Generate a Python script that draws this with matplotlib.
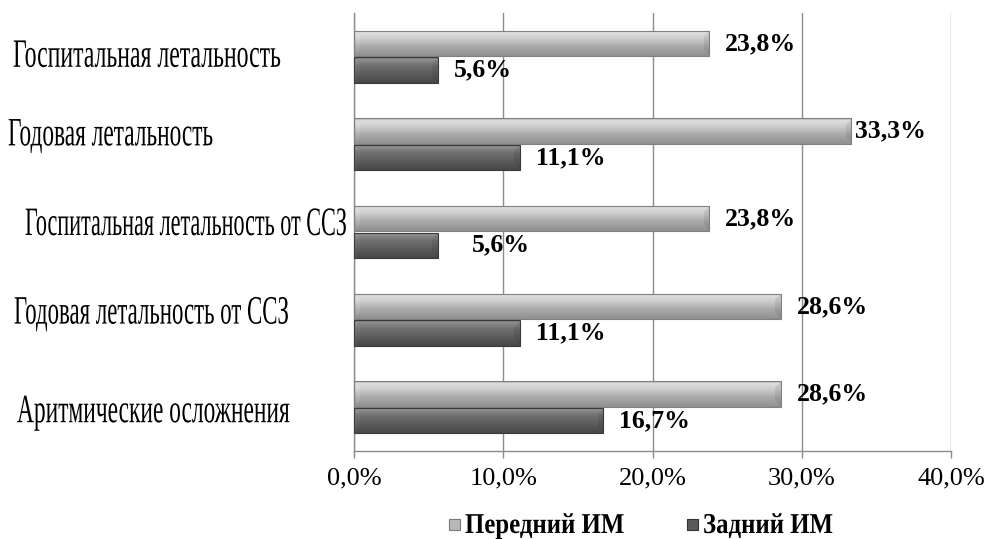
import numpy as np
import matplotlib
matplotlib.use("Agg")
import matplotlib.pyplot as plt
from matplotlib.patheffects import AbstractPathEffect
from matplotlib.transforms import Affine2D
from matplotlib.patches import Rectangle
from matplotlib.ticker import FuncFormatter

# ---- data -------------------------------------------------------------
categories = [
    "Госпитальная летальность",
    "Годовая летальность",
    "Госпитальная летальность от ССЗ",
    "Годовая летальность от ССЗ",
    "Аритмические осложнения",
]
anterior_mi = [23.8, 33.3, 23.8, 28.6, 28.6]    # Передний ИМ, %
posterior_mi = [5.6, 11.1, 5.6, 11.1, 16.7]     # Задний ИМ, %
series_names = ["Передний ИМ", "Задний ИМ"]
x_ticks = [0, 10, 20, 30, 40]

# ---- style ------------------------------------------------------------
W, H, DPI = 989, 539, 100
SERIF = "Liberation Serif"
GRID = "#8c8c8c"
LIGHT_STOPS = [(0.0, 0.64), (0.10, 0.87), (0.30, 0.81), (0.62, 0.67), (1.0, 0.56)]
DARK_STOPS = [(0.0, 0.44), (0.10, 0.56), (0.35, 0.43), (0.70, 0.35), (1.0, 0.28)]
CAT_SIZE = 29        # apparent (tall) size of the category captions, pt
# category labels: left edge (px), baseline shift from group centre (px), width ratio
label_place = [(13, 10, 0.59), (8, 1, 0.58), (25, 3, 0.55), (14, 4, 0.567), (17, 15, 0.582)]
# extra horizontal push (px) for individual value labels: (series, category) -> px
label_push = {(1, 2): 18, (0, 1): -12}
# legend: swatch left edge (px) for each entry, caption baseline (px from top)
legend_x = [449, 687]
legend_baseline = 533
LEG_SIZE, LEG_RATIO = 20.7, 0.864


class Tall(AbstractPathEffect):
    """Stretch a text path vertically about its baseline origin."""

    def __init__(self, sy):
        super().__init__()
        self.sy = sy

    def draw_path(self, renderer, gc, tpath, affine, rgbFace=None):
        ox, oy = affine.transform((0.0, 0.0))
        stretch = Affine2D().translate(-ox, -oy).scale(1.0, self.sy).translate(ox, oy)
        renderer.draw_path(gc, tpath, affine + stretch, rgbFace)


def shaded_bar(h_px, w_px, stops, cap=6):
    """Cylinder-like grey shading with bevelled ends."""
    rows = (np.arange(h_px) + 0.5) / h_px
    pos, vals = zip(*stops)
    g = np.interp(rows, pos, vals)
    img = np.repeat(g[:, None], w_px, axis=1)
    r = np.arange(h_px)[:, None] + 0.5
    c = np.arange(w_px)[None, :] + 0.5
    edge = np.minimum(r, h_px - r)
    right = ((w_px - c) < cap) & ((w_px - c) < edge)
    left = (c < cap) & (c < edge)
    img = np.where(right, img * 0.92, img)
    img = np.where(left, np.clip(img * 1.04, 0, 1), img)
    return np.dstack([img, img, img])


def pct(v):
    return f"{v:.1f}%".replace(".", ",")


fig = plt.figure(figsize=(W / DPI, H / DPI), dpi=DPI)
ax = fig.add_axes([354 / W, (H - 451) / H, 597 / W, 438 / H])

y = np.arange(len(categories))
bh = 0.29
gap = 0.006
light = ax.barh(y - bh / 2 - gap, anterior_mi, height=bh, facecolor="none",
                edgecolor="#808080", linewidth=0.8, zorder=3)
dark = ax.barh(y + bh / 2 + gap, posterior_mi, height=bh, facecolor="none",
               edgecolor="#3a3a3a", linewidth=0.8, zorder=3)

xlim = (x_ticks[0], x_ticks[-1])
ylim = (len(categories) - 0.5, -0.5)
ax.set_xlim(*xlim)
ax.set_ylim(*ylim)

for bars, stops in ((light, LIGHT_STOPS), (dark, DARK_STOPS)):
    for rect in bars:
        x0, y0 = rect.get_x(), rect.get_y()
        w, h = rect.get_width(), rect.get_height()
        p0 = ax.transData.transform((x0, y0))
        p1 = ax.transData.transform((x0 + w, y0 + h))
        wpx = max(int(round(abs(p1[0] - p0[0]))), 1)
        hpx = max(int(round(abs(p1[1] - p0[1]))), 1)
        im = ax.imshow(shaded_bar(hpx, wpx, stops), extent=(x0, x0 + w, y0 + h, y0),
                       aspect="auto", origin="upper", interpolation="bilinear", zorder=2.5)
        im.set_clip_path(rect)

ax.set_xlim(*xlim)
ax.set_ylim(*ylim)

# value labels
for s, (bars, vals) in enumerate(((light, anterior_mi), (dark, posterior_mi))):
    for i, (rect, v) in enumerate(zip(bars, vals)):
        yc = rect.get_y() + rect.get_height() / 2
        dx = (16 + label_push.get((s, i), 0)) * 72 / DPI
        ax.annotate(pct(v), xy=(v, yc), xytext=(dx, 0), textcoords="offset points",
                    ha="left", va="center", fontsize=18.5, fontweight="bold",
                    family=SERIF, color="black", zorder=5)

# axes styling
ax.set_xticks(x_ticks)
ax.xaxis.set_major_formatter(FuncFormatter(lambda v, _: pct(v)))
ax.tick_params(axis="x", direction="out", length=5, width=1, color=GRID, pad=7,
               labelsize=19)
for t in ax.get_xticklabels():
    t.set_family(SERIF)
ax.tick_params(axis="y", left=False, labelleft=False)
ax.xaxis.grid(True, color=GRID, linewidth=1.0)
ax.set_axisbelow(True)
for side in ("top", "right"):
    ax.spines[side].set_visible(False)
for side in ("left", "bottom"):
    ax.spines[side].set_color(GRID)
    ax.spines[side].set_linewidth(1.0)

# category labels in a tall, narrow serif
for i, (name, (lx, dy, ratio)) in enumerate(zip(categories, label_place)):
    yc_px = ax.transData.transform((0, y[i]))[1]
    fig.text(lx / W, (yc_px - dy) / H, name, ha="left", va="baseline",
             fontsize=CAT_SIZE * ratio, family=SERIF, color="black",
             path_effects=[Tall(1 / ratio)])

# legend: small shaded swatch followed by a bold narrow caption
swatch_colors = [("#b8b8b8", "#7a7a7a"), ("#5a5a5a", "#333333")]
for name, lx, (fc, ec) in zip(series_names, legend_x, swatch_colors):
    fig.add_artist(Rectangle((lx / W, (H - legend_baseline + 3) / H), 11 / W, 11 / H,
                             transform=fig.transFigure, facecolor=fc, edgecolor=ec,
                             linewidth=0.8))
    fig.text((lx + 16) / W, (H - legend_baseline) / H, name, ha="left", va="baseline",
             fontsize=LEG_SIZE * LEG_RATIO, fontweight="bold", family=SERIF,
             color="black", path_effects=[Tall(1 / LEG_RATIO)])

fig.savefig("out.png", dpi=DPI)
